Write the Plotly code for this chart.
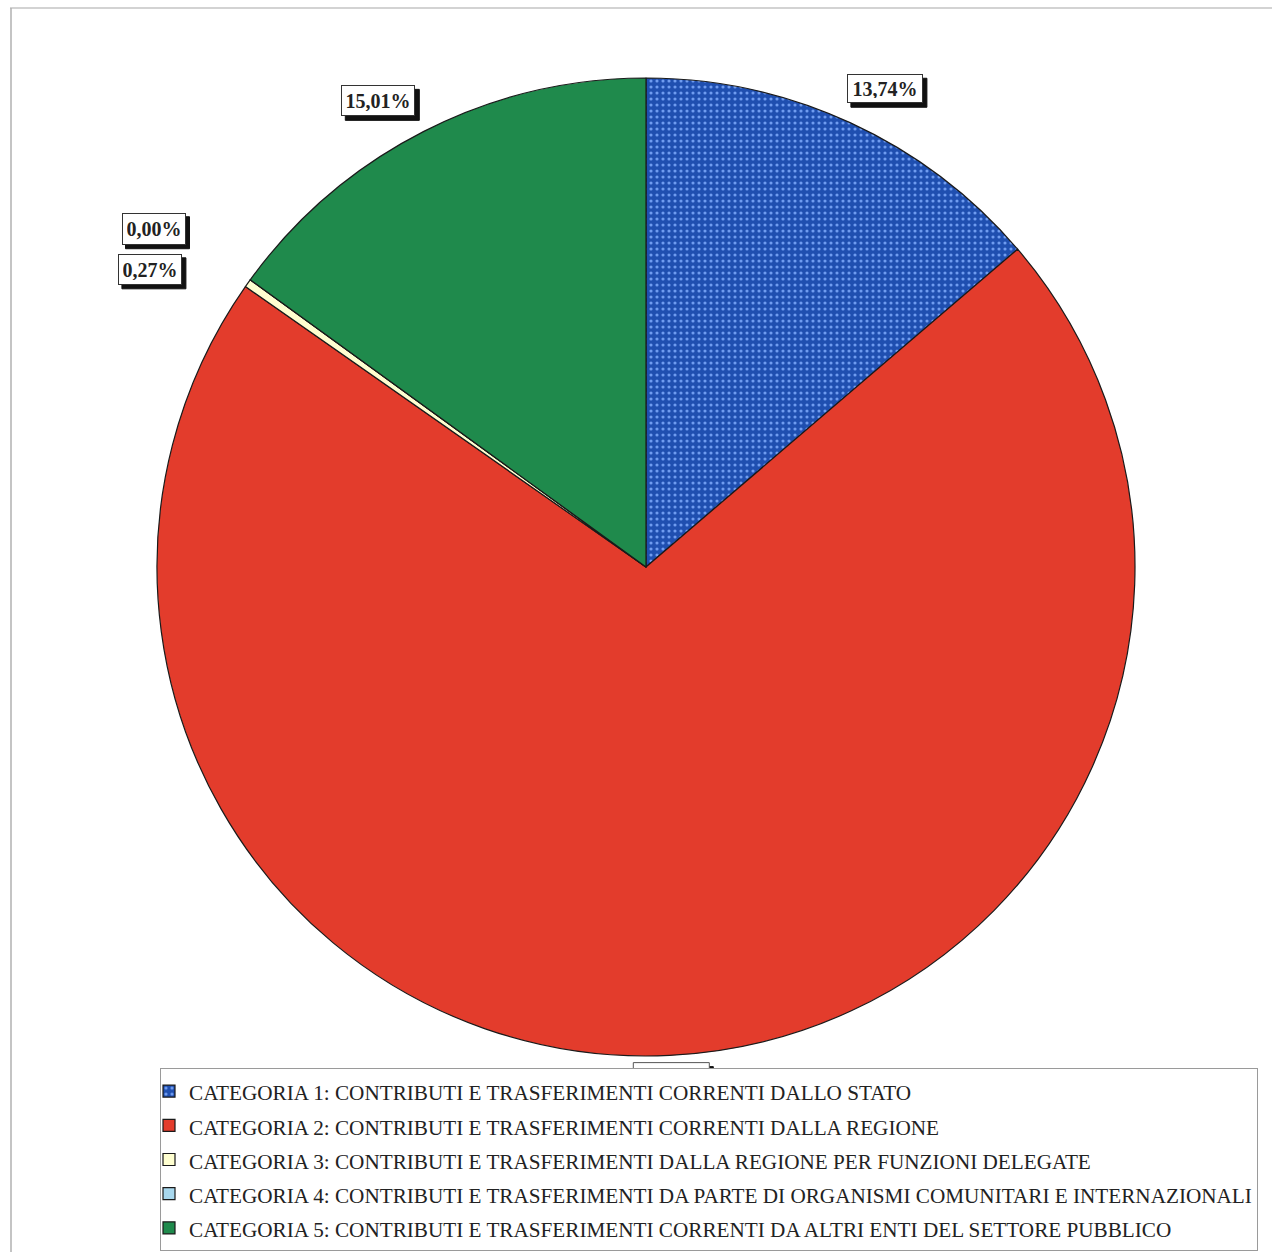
import math
import plotly.graph_objects as go

# Shares of current transfers by category (percent)
categories = [
    "CATEGORIA 1: CONTRIBUTI E TRASFERIMENTI CORRENTI DALLO STATO",
    "CATEGORIA 2: CONTRIBUTI E TRASFERIMENTI CORRENTI DALLA REGIONE",
    "CATEGORIA 3: CONTRIBUTI E TRASFERIMENTI DALLA REGIONE PER FUNZIONI DELEGATE",
    "CATEGORIA 4: CONTRIBUTI E TRASFERIMENTI DA PARTE DI ORGANISMI COMUNITARI E INTERNAZIONALI",
    "CATEGORIA 5: CONTRIBUTI E TRASFERIMENTI CORRENTI DA ALTRI ENTI DEL SETTORE PUBBLICO",
]
shares = [13.74, 70.98, 0.27, 0.00, 15.01]
share_labels = ["13,74%", "70,98%", "0,27%", "0,00%", "15,01%"]

colors = ["#1f4fb0", "#e33c2c", "#ffffd0", "#a8d8ee", "#1f8a4c"]
patterns = [".", "", "", "", ""]
# pixel nudges for the value labels (x right, y up)
label_dx = [-18, 0, -38, -37, 7]
label_dy = [3, 12, -6, 31, 0]
# inner size of each label box (text area, px)
box_w = [66, 66, 54, 54, 64]
box_h = [19, 20, 21, 22, 21]

W, H = 1272, 1252
# pie geometry on screen
CX, CY, R = 646, 567, 489
PAD = 5  # borderpad + borderwidth
SHADOW = 4

fig = go.Figure()
fig.add_trace(go.Pie(
    labels=['<span style="font-size:21.2px">%s</span>' % c for c in categories],
    values=shares,
    sort=False,
    direction="clockwise",
    rotation=0,
    textinfo="none",
    hoverinfo="label+percent",
    marker=dict(
        colors=colors,
        line=dict(color="#1a1a1a", width=1.2),
        pattern=dict(shape=patterns, fgcolor="#6f9cf0", bgcolor=colors,
                     size=6, solidity=0.22),
    ),
    domain=dict(x=[(CX - R) / W, (CX + R) / W],
                y=[1 - (CY + R) / H, 1 - (CY - R) / H]),
    showlegend=True,
))


def px_x(v):
    return v / W


def px_y(v):
    return 1 - v / H


label_font = dict(family="Liberation Serif", size=20)
total = sum(shares)
cum = 0.0
annotations = []
shapes = [
    dict(type="line", xref="paper", yref="paper", x0=px_x(10), x1=1, y0=px_y(8), y1=px_y(8),
         line=dict(color="#c4c4c4", width=1.5)),
    dict(type="line", xref="paper", yref="paper", x0=px_x(11), x1=px_x(11), y0=0, y1=px_y(8),
         line=dict(color="#b0b0b0", width=1.5)),
]
for i, v in enumerate(shares):
    mid = (cum + v / 2) / total * 2 * math.pi
    cum += v
    rr = R * 1.07
    ax = CX + rr * math.sin(mid) + label_dx[i]
    ay = CY - rr * math.cos(mid) - label_dy[i]
    s = math.sin(mid)
    ow, oh = box_w[i] + 2 * PAD, box_h[i] + 2 * PAD
    # box left edge depends on which side of the pie the label sits
    if s > 0.1:
        left = ax
    elif s < -0.1:
        left = ax - ow
    else:
        left = ax - ow / 2
    top = ay - oh / 2
    # drop shadow
    shapes.append(dict(
        type="rect", xref="paper", yref="paper", layer="above",
        x0=px_x(left + SHADOW), x1=px_x(left + ow + SHADOW),
        y0=px_y(top + oh + SHADOW), y1=px_y(top + SHADOW),
        fillcolor="#111", line=dict(color="#111", width=1),
    ))
    if abs(s) <= 0.1:
        # bottom label: its box sits behind the legend, only the top edge shows
        shapes.append(dict(
            type="rect", xref="paper", yref="paper", layer="above",
            x0=px_x(left), x1=px_x(left + ow), y0=px_y(top + oh), y1=px_y(top),
            fillcolor="white", line=dict(color="#555", width=1),
        ))
        continue
    annotations.append(dict(
        x=px_x(left), y=px_y(top), xref="paper", yref="paper",
        xanchor="left", yanchor="top", showarrow=False,
        width=box_w[i], height=box_h[i], align="center", valign="middle",
        text="<b>%s</b>" % share_labels[i], borderpad=4, borderwidth=1,
        bgcolor="white", bordercolor="#333", font=dict(label_font, color="#222"),
    ))

fig.update_layout(
    width=W, height=H,
    margin=dict(l=0, r=0, t=0, b=0, autoexpand=False),
    paper_bgcolor="white",
    plot_bgcolor="white",
    annotations=annotations,
    shapes=shapes,
    legend=dict(
        x=px_x(160), y=px_y(1068), xanchor="left", yanchor="top",
        bgcolor="white", bordercolor="#9a9a9a", borderwidth=1,
        font=dict(family="Liberation Serif", size=24, color="#222"),
        indentation=-12,
        traceorder="normal",
    ),
)

fig.write_html("out.html")
